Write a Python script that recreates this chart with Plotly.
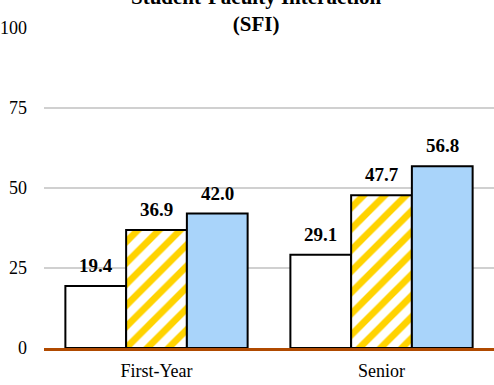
import plotly.graph_objects as go

categories = ["First-Year", "Senior"]
series_a = [19.4, 29.1]
series_b = [36.9, 47.7]
series_c = [42.0, 56.8]
y_ticks = [0, 25, 50, 75, 100]
title_text = "<b>Student-Faculty Interaction<br>(SFI)</b>"

FONT = "Liberation Serif"
fig = go.Figure()
fig.add_trace(go.Bar(x=categories, y=series_a, marker=dict(color="white", line=dict(color="black", width=2))))
fig.add_trace(go.Bar(x=categories, y=series_b,
                     marker=dict(color="white", line=dict(color="black", width=2),
                                 pattern=dict(shape="/", fgcolor="#FFD300", bgcolor="white", fgopacity=1,
                                              size=15, solidity=0.45))))
fig.add_trace(go.Bar(x=categories, y=series_c, marker=dict(color="#A9D4FA", line=dict(color="black", width=2))))

bar_w = 450 / 2 * 0.81 / 3
for i, vals in enumerate([series_a, series_b, series_c]):
    for c, v in zip(categories, vals):
        fig.add_annotation(x=c, y=v, text=f"<b>{v:.1f}</b>", showarrow=False,
                           xshift=(i - 1) * bar_w, yanchor="bottom", yshift=8,
                           font=dict(family=FONT, size=19, color="black"))

fig.add_annotation(text=title_text, xref="paper", yref="paper", x=0.472, y=1.050,
                   xanchor="center", yanchor="middle", showarrow=False,
                   font=dict(family=FONT, size=21, color="black"))

fig.update_layout(
    width=494, height=385,
    margin=dict(l=44, r=0, t=27, b=37, autoexpand=False),
    paper_bgcolor="white", plot_bgcolor="white",
    showlegend=False,
    barmode="group", bargap=0.19, bargroupgap=0,
    font=dict(family=FONT, size=18, color="black"),
    xaxis=dict(showline=True, linecolor="#B04A00", linewidth=3, showgrid=False, ticks="", automargin=False,
               ticklabelstandoff=4),
    yaxis=dict(range=[0, 100.3], tickvals=y_ticks, showgrid=True, gridcolor="#D0D0D0", gridwidth=2,
               zeroline=False, showline=False, ticklabelstandoff=16, automargin=False),
)
fig.write_html("out.html", config={"displayModeBar": False},
               post_script="document.body.style.margin='0';")
